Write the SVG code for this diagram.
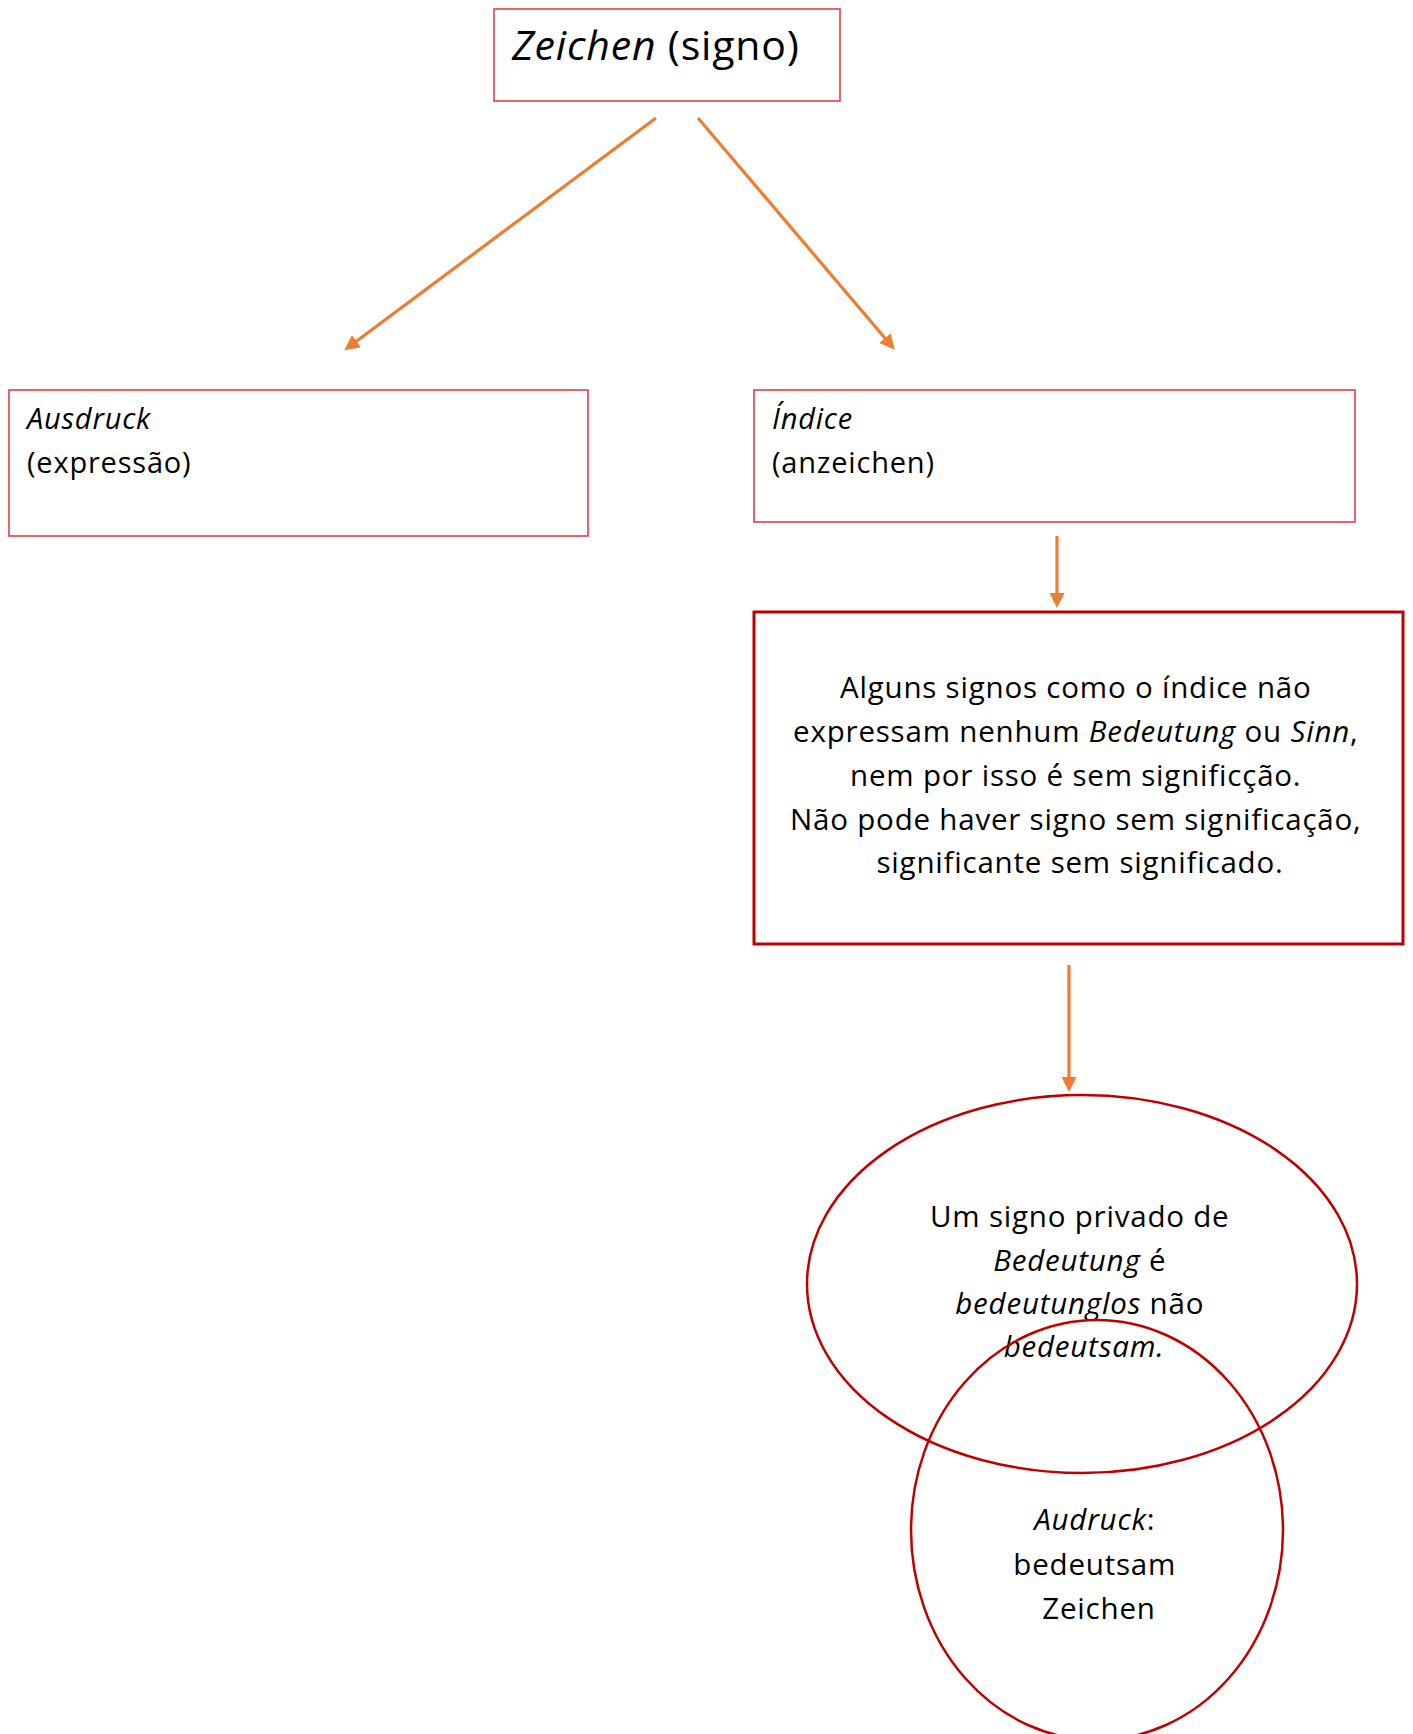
<svg xmlns="http://www.w3.org/2000/svg" width="1413" height="1734" viewBox="0 0 1413 1734">
<style>
  .t { font-family: "Open Sans", Lato, "Liberation Sans", sans-serif; fill: #000; letter-spacing: 0.8px; }
  .i { font-style: italic; }
  .thin { fill: #fff; stroke: #D8373A; stroke-width: 1.5; }
  .thick { fill: #fff; stroke: #C00000; stroke-width: 3; }
  .ell { fill: none; stroke: #C00000; stroke-width: 2.5; }
  .conn { fill: none; stroke: #ED7D31; stroke-width: 3.2; }
</style>
<defs>
  <marker id="ah" viewBox="0 0 10 10" refX="2" refY="5" markerWidth="18" markerHeight="15" markerUnits="userSpaceOnUse" orient="auto">
    <path d="M0,0 L10,5 L0,10 z" fill="#ED7D31"/>
  </marker>
</defs>
<rect width="1413" height="1734" fill="#fff"/>

<g id="node-zeichen">
  <rect class="thin" x="494" y="9" width="346" height="92"/>
  <text class="t" x="512" y="60" font-size="41"><tspan class="i">Zeichen</tspan> (signo)</text>
</g>

<g id="node-ausdruck">
  <rect class="thin" x="9" y="390" width="579" height="146"/>
  <text class="t" x="27" y="429" font-size="29"><tspan class="i">Ausdruck</tspan><tspan x="27" y="473">(expressão)</tspan></text>
</g>

<g id="node-indice">
  <rect class="thin" x="754" y="390" width="601" height="132"/>
  <text class="t" x="772" y="429" font-size="29"><tspan class="i">Índice</tspan><tspan x="772" y="473">(anzeichen)</tspan></text>
</g>

<g id="node-text">
  <rect class="thick" x="754" y="612" width="649" height="332"/>
  <text class="t" font-size="29.5" text-anchor="middle">
    <tspan x="1080" y="698">Alguns signos como o índice não</tspan>
    <tspan x="1080" y="742">expressam nenhum <tspan class="i">Bedeutung</tspan> ou <tspan class="i">Sinn</tspan>,</tspan>
    <tspan x="1080" y="786">nem por isso é sem significção.</tspan>
    <tspan x="1080" y="830">Não pode haver signo sem significação,</tspan>
    <tspan x="1080" y="873">significante sem significado.</tspan>
  </text>
</g>

<g id="node-ellipse">
  <ellipse class="ell" cx="1082" cy="1284" rx="275" ry="189"/>
  <text class="t" font-size="29.5" text-anchor="middle">
    <tspan x="1084" y="1227">Um signo privado de</tspan>
    <tspan x="1084" y="1271"><tspan class="i">Bedeutung</tspan> é</tspan>
    <tspan x="1084" y="1314"><tspan class="i">bedeutunglos</tspan> não</tspan>
    <tspan x="1084" y="1357" class="i">bedeutsam.</tspan>
  </text>
</g>

<g id="node-circle">
  <ellipse class="ell" cx="1097" cy="1530" rx="186" ry="210"/>
  <text class="t" font-size="29.5" text-anchor="middle">
    <tspan x="1099" y="1530"><tspan class="i">Audruck</tspan>:</tspan>
    <tspan x="1099" y="1575">bedeutsam</tspan>
    <tspan x="1099" y="1619">Zeichen</tspan>
  </text>
</g>

<g id="connectors">
  <line class="conn" x1="656" y1="118" x2="354" y2="343" marker-end="url(#ah)"/>
  <line class="conn" x1="698" y1="118" x2="887" y2="340.5" marker-end="url(#ah)"/>
  <line class="conn" x1="1057" y1="536" x2="1057" y2="596" marker-end="url(#ah)"/>
  <line class="conn" x1="1069" y1="965" x2="1069" y2="1080" marker-end="url(#ah)"/>
</g>
</svg>
